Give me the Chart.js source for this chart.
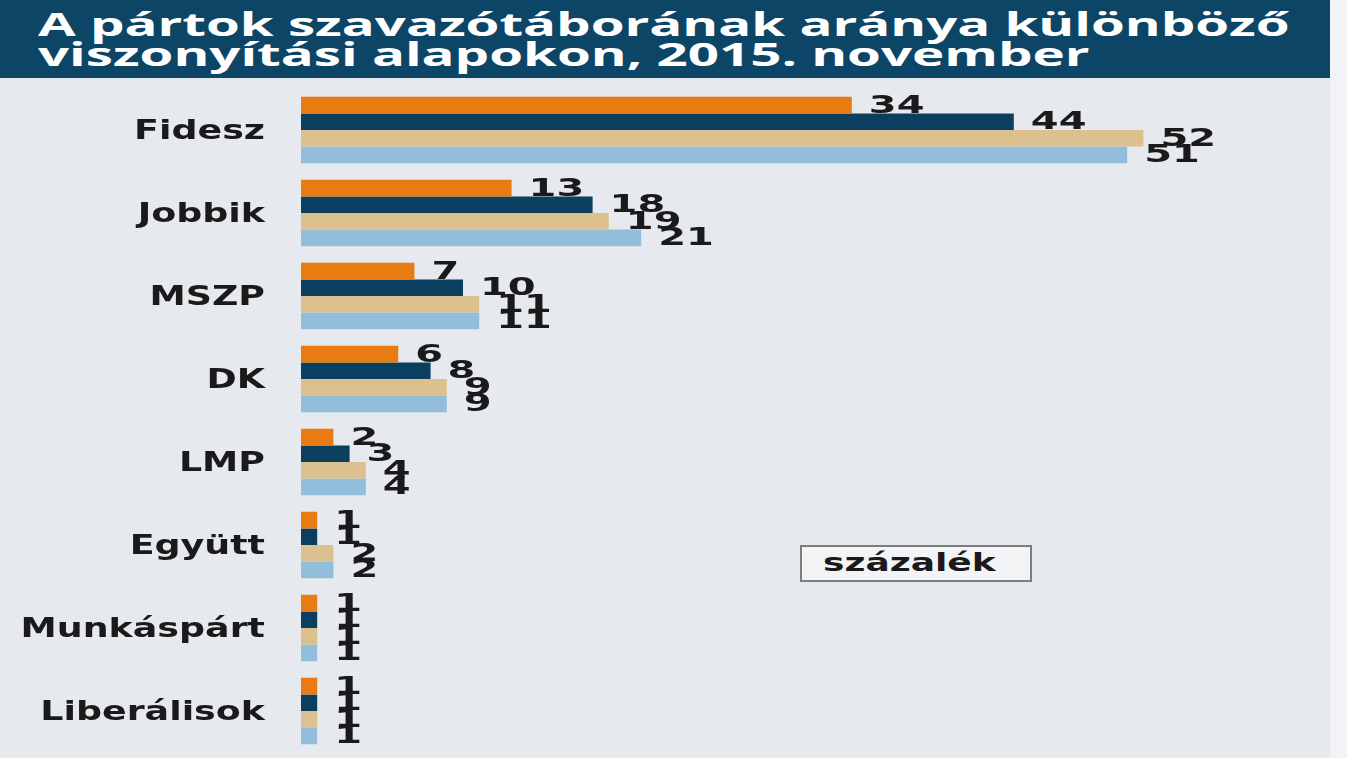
<!DOCTYPE html>
<html lang="hu">
<head>
<meta charset="utf-8">
<script src="https://cdn.jsdelivr.net/npm/chart.js@4.4.1/dist/chart.umd.min.js"></script>
<style>
  html, body { margin: 0; padding: 0; }
  body { width: 1347px; height: 758px; background: #f2f3f5; position: relative; overflow: hidden; font-family: "Open Sans", sans-serif; }
  #panel { position: absolute; left: 0; top: 0; width: 1330px; height: 758px; background: #e6e9ed; }
  #title { position: absolute; left: 0; top: 0; width: 1330px; height: 78px; background: #0d4566; }
  .tline { position: absolute; left: 38px; white-space: nowrap; color: #fff; font-weight: 700; font-size: 33px; line-height: 34px; transform-origin: 0 0; }
  #chartBox { position: absolute; left: 0; top: 78px; width: 1330px; height: 680px; }
  #unit { position: absolute; left: 800px; top: 545px; width: 228px; height: 33px; border: 2px solid #7d7d7d; background: #f3f4f6; }
  #unit span { position: absolute; left: 21px; top: 1px; font-family: "DejaVu Sans", sans-serif; font-weight: 700; font-size: 24px; line-height: 30px; color: #1a1a1a; transform: scaleX(1.5); transform-origin: 0 0; white-space: nowrap; }
</style>
</head>
<body>
<div id="panel"></div>
<div id="title">
  <div class="tline" id="t1" style="top:7px">A pártok szavazótáborának aránya különböző</div>
  <div class="tline" id="t2" style="top:37px">viszonyítási alapokon, 2015. november</div>
</div>
<div id="chartBox"><canvas id="chart" width="1330" height="680"></canvas></div>
<div id="unit"><span>százalék</span></div>
<script>
// Données (en %)
const parties = ['Fidesz', 'Jobbik', 'MSZP', 'DK', 'LMP', 'Együtt', 'Munkáspárt', 'Liberálisok'];
const serieA = [34, 13, 7, 6, 2, 1, 1, 1];   // orange
const serieB = [44, 18, 10, 8, 3, 1, 1, 1];  // bleu foncé
const serieC = [52, 19, 11, 9, 4, 2, 1, 1];  // beige
const serieD = [51, 21, 11, 9, 4, 2, 1, 1];  // bleu clair
const colors = ['#ea7a12', '#0b3f5f', '#dcc08e', '#93bedb'];

// Étirer le titre sur la largeur voulue
const t1 = document.getElementById('t1');
const sx = 1252 / t1.offsetWidth;
t1.style.transform = 'scaleX(' + sx + ')';
document.getElementById('t2').style.transform = 'scaleX(' + sx + ')';

// Texte étiré horizontalement (police large comme sur l'original)
function wideText(ctx, txt, x, y, align, stretch) {
    ctx.save();
    ctx.translate(x, y);
    ctx.scale(stretch, 1);
    ctx.textAlign = align;
    ctx.textBaseline = 'middle';
    ctx.fillText(txt, 0, 0);
    ctx.restore();
}

const labelsPlugin = {
    id: 'labels',
    afterDatasetsDraw(chart) {
        const ctx = chart.ctx;
        const yScale = chart.scales.y;
        ctx.fillStyle = '#1a1a1a';
        // Noms des partis
        ctx.font = 'bold 26px "DejaVu Sans"';
        parties.forEach((p, i) => {
            wideText(ctx, p, 265, yScale.getPixelForTick(i) + 2, 'right', 1.4);
        });
        // Valeurs au bout des barres
        ctx.font = 'bold 25px "DejaVu Sans"';
        chart.data.datasets.forEach((ds, di) => {
            chart.getDatasetMeta(di).data.forEach((bar, i) => {
                wideText(ctx, String(ds.data[i]), bar.x + 17, bar.y + 1, 'left', 1.6);
            });
        });
    }
};

const ctx = document.getElementById('chart').getContext('2d');
new Chart(ctx, {
    type: 'bar',
    data: {
        labels: parties,
        datasets: [
            { data: serieA, backgroundColor: colors[0] },
            { data: serieB, backgroundColor: colors[1] },
            { data: serieC, backgroundColor: colors[2] },
            { data: serieD, backgroundColor: colors[3] }
        ]
    },
    options: {
        indexAxis: 'y',
        responsive: false,
        animation: false,
        categoryPercentage: 0.8,
        barPercentage: 1.0,
        layout: { padding: { left: 301, right: 57, top: 10.5, bottom: 5.5 } },
        scales: {
            x: { display: false, min: 0, max: 60 },
            y: { display: false }
        },
        plugins: {
            legend: { display: false },
            tooltip: { enabled: false }
        }
    },
    plugins: [labelsPlugin]
});
</script>
</body>
</html>
